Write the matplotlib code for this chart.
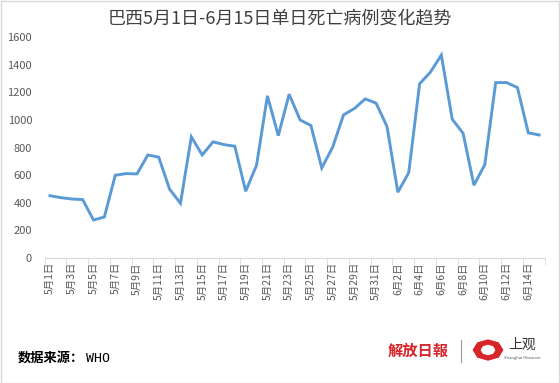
import matplotlib.pyplot as plt
import numpy as np
from matplotlib.patches import Rectangle, RegularPolygon

plt.rcParams['font.family'] = ['Noto Sans CJK SC', 'DejaVu Sans']

# daily deaths, Brazil, May 1 - June 15
dates = ['5月%d日' % d for d in range(1, 32)] + ['6月%d日' % d for d in range(1, 16)]
deaths = [451, 437, 427, 423, 275, 297, 599, 611, 609, 746, 730, 498, 396, 877, 746,
          841, 821, 809, 483, 672, 1174, 886, 1186, 1000, 959, 652, 802, 1036, 1082,
          1152, 1121, 952, 476, 618, 1261, 1346, 1469, 1005, 903, 527, 676, 1270,
          1270, 1234, 906, 891]
title = '巴西5月1日-6月15日单日死亡病例变化趋势'
source = '数据来源：'

W, H = 560, 383
fig = plt.figure(figsize=(W / 100, H / 100), dpi=100)
ax = fig.add_axes([44.6 / W, (H - 258) / H, 500 / W, 221 / H])

x = np.arange(len(deaths))
ax.plot(x, deaths, color='#5B9BD5', linewidth=2.1, solid_joinstyle='miter')
ax.set_xlim(-0.5, len(deaths) - 0.5)
ax.set_ylim(0, 1600)
ax.set_yticks(range(0, 1601, 200))

ax.set_xticks(x[::2])
ax.set_xticklabels(dates[::2], rotation=90, fontsize=7.5, color='#595959')
ax.set_xticks(np.arange(-0.5, len(deaths), 2), minor=True)
ax.tick_params(axis='x', which='major', length=0, pad=3)
ax.tick_params(axis='x', which='minor', length=5, color='#D9D9D9')
ax.tick_params(axis='y', length=0, labelsize=8, labelcolor='#595959', pad=9)

for s in ['left', 'top', 'right']:
    ax.spines[s].set_visible(False)
ax.spines['bottom'].set_color('#D9D9D9')

fig.text(0.5, 1 - 18 / H, title, ha='center', va='center', fontsize=13, color='#404040')
fig.text(18 / W, 1 - 358 / H, source, ha='left', va='center', fontsize=9.5,
         fontweight='bold', color='#000000')
fig.text(86 / W, 1 - 358 / H, 'WHO', ha='left', va='center', fontsize=9.5,
         family='DejaVu Sans Mono', color='#000000')

# logos (approximation)
fig.text(418 / W, 1 - 351 / H, '解放日報', ha='center', va='center', fontsize=11,
         color='#D7262B', fontweight='bold', style='italic')
fig.add_artist(plt.Line2D([461 / W, 461 / W], [1 - 340 / H, 1 - 362 / H],
                          color='#999999', linewidth=0.8))
fig.add_artist(RegularPolygon((488 / W, 1 - 350 / H), 8, radius=10 / H,
                              transform=fig.transFigure, color='#D7262B'))
fig.add_artist(RegularPolygon((488 / W, 1 - 350 / H), 8, radius=4.5 / H,
                              transform=fig.transFigure, color='white'))
fig.text(522 / W, 1 - 345 / H, '上观', ha='center', va='center', fontsize=10, color='#333333')
fig.text(522 / W, 1 - 358 / H, 'Shanghai Observer', ha='center', va='center', fontsize=3,
         color='#555555')

fig.add_artist(Rectangle((0.001, 0.001), 0.997, 0.997, transform=fig.transFigure,
                         fill=False, edgecolor='#D9D9D9', linewidth=1))

fig.savefig('out.png', dpi=100)
